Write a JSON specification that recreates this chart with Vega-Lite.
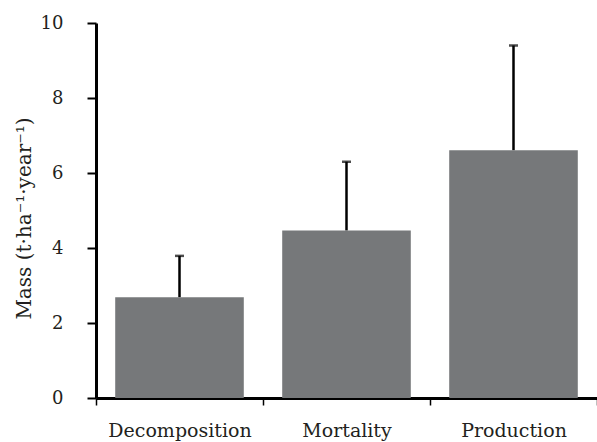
{
  "$schema": "https://vega.github.io/schema/vega-lite/v6.json",
  "width": 501,
  "height": 375,
  "autosize": {"type": "none"},
  "padding": {"left": 96, "top": 23, "right": 0, "bottom": 44},
  "background": "white",
  "config": {
    "view": {"stroke": null},
    "font": "DejaVu Serif",
    "axis": {"labelFont": "DejaVu Serif", "titleFont": "DejaVu Serif", "labelColor": "#231f20", "titleColor": "#231f20", "domainColor": "black", "tickColor": "black", "grid": false}
  },
  "data": {
    "values": [
      {"category": "Decomposition", "mass": 2.69, "upper": 3.79},
      {"category": "Mortality", "mass": 4.47, "upper": 6.3},
      {"category": "Production", "mass": 6.61, "upper": 9.4}
    ]
  },
  "encoding": {
    "x": {
      "field": "category",
      "type": "nominal",
      "sort": null,
      "scale": {"paddingInner": 0, "paddingOuter": 0},
      "axis": {"title": null, "labelAngle": 0, "labelFontSize": 19, "labelPadding": 16, "tickBand": "extent", "tickSize": 7, "tickWidth": 1.5, "domainWidth": 3}
    }
  },
  "layer": [
    {
      "mark": {"type": "bar", "color": "#76787a", "width": {"band": 0.77}},
      "encoding": {
        "y": {
          "field": "mass",
          "type": "quantitative",
          "scale": {"domain": [0, 10], "nice": false},
          "axis": {"title": "Mass (t·ha⁻¹·year⁻¹)", "titleFontSize": 20, "titleFontWeight": "normal", "titlePadding": 6, "titleY": 195, "values": [0, 2, 4, 6, 8, 10], "labelFontSize": 18, "labelPadding": 24, "tickSize": 9, "tickWidth": 2, "domainWidth": 3}
        }
      }
    },
    {
      "mark": {"type": "rule", "color": "black", "strokeWidth": 2.5},
      "encoding": {
        "y": {"field": "mass", "type": "quantitative"},
        "y2": {"field": "upper"}
      }
    },
    {
      "mark": {"type": "tick", "color": "black", "thickness": 2.5, "size": 9},
      "encoding": {
        "y": {"field": "upper", "type": "quantitative"}
      }
    }
  ]
}
